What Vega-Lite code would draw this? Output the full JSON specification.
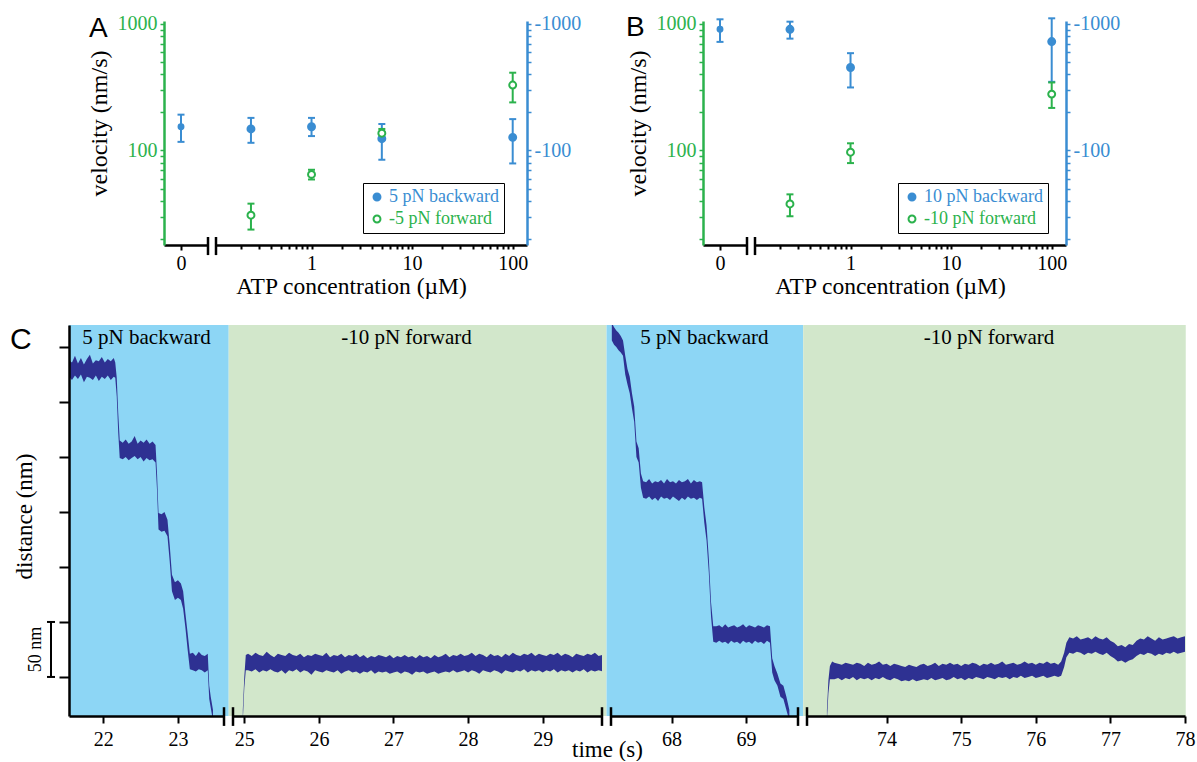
{
"$schema": "https://vega.github.io/schema/vega-lite/v6.json",
"background": "white",
"padding": {"left": 9, "top": 13, "right": 2, "bottom": 0},
"config": {"view": {"stroke": null}, "font": "Liberation Serif", "axis": {"grid": false, "labelFont": "Liberation Serif", "titleFont": "Liberation Serif", "labelFlush": false, "labelOverlap": false, "titleFontWeight": "normal"}},
"datasets": {
"tr1": [
{"t":21.54,"lo":273,"hi":288},{"t":21.58,"lo":270,"hi":286},{"t":21.62,"lo":274,"hi":292},{"t":21.66,"lo":271,"hi":285},{"t":21.70,"lo":275,"hi":290},{"t":21.74,"lo":268,"hi":284},{"t":21.78,"lo":273,"hi":289},{"t":21.82,"lo":272,"hi":293},{"t":21.86,"lo":270,"hi":285},{"t":21.90,"lo":274,"hi":288},{"t":21.94,"lo":269,"hi":287},{"t":21.98,"lo":273,"hi":291},{"t":22.02,"lo":271,"hi":286},{"t":22.06,"lo":274,"hi":289},{"t":22.10,"lo":270,"hi":287},{"t":22.14,"lo":273,"hi":290},{"t":22.16,"lo":272,"hi":286},{"t":22.18,"lo":255,"hi":272},{"t":22.20,"lo":222,"hi":240},{"t":22.22,"lo":199,"hi":215},{"t":22.26,"lo":198,"hi":213},{"t":22.30,"lo":200,"hi":216},{"t":22.34,"lo":197,"hi":212},{"t":22.38,"lo":199,"hi":214},{"t":22.42,"lo":201,"hi":219},{"t":22.46,"lo":198,"hi":212},{"t":22.50,"lo":200,"hi":215},{"t":22.54,"lo":196,"hi":213},{"t":22.58,"lo":199,"hi":216},{"t":22.62,"lo":197,"hi":212},{"t":22.66,"lo":198,"hi":214},{"t":22.70,"lo":195,"hi":211},{"t":22.72,"lo":170,"hi":185},{"t":22.74,"lo":134,"hi":149},{"t":22.78,"lo":132,"hi":148},{"t":22.82,"lo":133,"hi":150},{"t":22.86,"lo":128,"hi":143},{"t":22.89,"lo":105,"hi":120},{"t":22.92,"lo":78,"hi":93},{"t":22.96,"lo":70,"hi":86},{"t":23.00,"lo":72,"hi":88},{"t":23.04,"lo":70,"hi":85},{"t":23.07,"lo":62,"hi":78},{"t":23.10,"lo":45,"hi":58},{"t":23.13,"lo":25,"hi":40},{"t":23.16,"lo":7,"hi":21},{"t":23.20,"lo":6,"hi":22},{"t":23.24,"lo":5,"hi":19},{"t":23.28,"lo":7,"hi":23},{"t":23.32,"lo":6,"hi":20},{"t":23.36,"lo":4,"hi":19},{"t":23.40,"lo":6,"hi":21},{"t":23.42,"lo":-20,"hi":-8},{"t":23.44,"lo":-28,"hi":-18},{"t":23.47,"lo":-40,"hi":-30}
],
"tr2": [
{"t":24.98,"lo":-40,"hi":-30},{"t":25.00,"lo":-10,"hi":0},{"t":25.02,"lo":6,"hi":20},{"t":25.05,"lo":6,"hi":21},{"t":25.10,"lo":5,"hi":19},{"t":25.15,"lo":7,"hi":22},{"t":25.20,"lo":4,"hi":20},{"t":25.25,"lo":6,"hi":19},{"t":25.30,"lo":5,"hi":23},{"t":25.35,"lo":7,"hi":20},{"t":25.40,"lo":5,"hi":18},{"t":25.45,"lo":4,"hi":21},{"t":25.50,"lo":6,"hi":20},{"t":25.55,"lo":3,"hi":19},{"t":25.60,"lo":6,"hi":22},{"t":25.65,"lo":5,"hi":20},{"t":25.70,"lo":7,"hi":19},{"t":25.75,"lo":4,"hi":21},{"t":25.80,"lo":6,"hi":18},{"t":25.85,"lo":5,"hi":20},{"t":25.90,"lo":2,"hi":19},{"t":25.95,"lo":6,"hi":21},{"t":26.00,"lo":5,"hi":20},{"t":26.05,"lo":4,"hi":19},{"t":26.10,"lo":6,"hi":22},{"t":26.15,"lo":5,"hi":18},{"t":26.20,"lo":4,"hi":20},{"t":26.25,"lo":6,"hi":19},{"t":26.30,"lo":3,"hi":21},{"t":26.35,"lo":5,"hi":18},{"t":26.40,"lo":6,"hi":20},{"t":26.45,"lo":4,"hi":19},{"t":26.50,"lo":5,"hi":21},{"t":26.55,"lo":3,"hi":18},{"t":26.60,"lo":5,"hi":20},{"t":26.65,"lo":4,"hi":17},{"t":26.70,"lo":6,"hi":19},{"t":26.75,"lo":3,"hi":18},{"t":26.80,"lo":5,"hi":20},{"t":26.85,"lo":4,"hi":19},{"t":26.90,"lo":5,"hi":18},{"t":26.95,"lo":3,"hi":20},{"t":27.00,"lo":4,"hi":17},{"t":27.05,"lo":5,"hi":19},{"t":27.10,"lo":3,"hi":18},{"t":27.15,"lo":5,"hi":20},{"t":27.20,"lo":4,"hi":18},{"t":27.25,"lo":2,"hi":19},{"t":27.30,"lo":5,"hi":17},{"t":27.35,"lo":4,"hi":20},{"t":27.40,"lo":5,"hi":18},{"t":27.45,"lo":3,"hi":19},{"t":27.50,"lo":4,"hi":17},{"t":27.55,"lo":5,"hi":20},{"t":27.60,"lo":3,"hi":18},{"t":27.65,"lo":4,"hi":19},{"t":27.70,"lo":5,"hi":21},{"t":27.75,"lo":4,"hi":18},{"t":27.80,"lo":6,"hi":20},{"t":27.85,"lo":4,"hi":19},{"t":27.90,"lo":5,"hi":21},{"t":27.95,"lo":6,"hi":19},{"t":28.00,"lo":4,"hi":20},{"t":28.05,"lo":6,"hi":22},{"t":28.10,"lo":5,"hi":19},{"t":28.15,"lo":3,"hi":21},{"t":28.20,"lo":6,"hi":20},{"t":28.25,"lo":5,"hi":18},{"t":28.30,"lo":4,"hi":21},{"t":28.35,"lo":6,"hi":19},{"t":28.40,"lo":5,"hi":20},{"t":28.45,"lo":3,"hi":18},{"t":28.50,"lo":6,"hi":21},{"t":28.55,"lo":5,"hi":19},{"t":28.60,"lo":4,"hi":22},{"t":28.65,"lo":6,"hi":20},{"t":28.70,"lo":5,"hi":19},{"t":28.75,"lo":7,"hi":21},{"t":28.80,"lo":4,"hi":20},{"t":28.85,"lo":6,"hi":22},{"t":28.90,"lo":5,"hi":19},{"t":28.95,"lo":6,"hi":21},{"t":29.00,"lo":4,"hi":20},{"t":29.05,"lo":6,"hi":19},{"t":29.10,"lo":5,"hi":21},{"t":29.15,"lo":7,"hi":20},{"t":29.20,"lo":4,"hi":22},{"t":29.25,"lo":6,"hi":19},{"t":29.30,"lo":5,"hi":21},{"t":29.35,"lo":6,"hi":20},{"t":29.40,"lo":4,"hi":18},{"t":29.45,"lo":6,"hi":21},{"t":29.50,"lo":5,"hi":20},{"t":29.55,"lo":7,"hi":19},{"t":29.60,"lo":4,"hi":21},{"t":29.65,"lo":6,"hi":20},{"t":29.70,"lo":5,"hi":22},{"t":29.75,"lo":6,"hi":19},{"t":29.80,"lo":5,"hi":20}
],
"tr3": [
{"t":67.20,"lo":306,"hi":322},{"t":67.23,"lo":302,"hi":318},{"t":67.26,"lo":300,"hi":315},{"t":67.29,"lo":297,"hi":313},{"t":67.32,"lo":295,"hi":310},{"t":67.35,"lo":292,"hi":306},{"t":67.38,"lo":275,"hi":292},{"t":67.41,"lo":266,"hi":280},{"t":67.44,"lo":258,"hi":273},{"t":67.47,"lo":244,"hi":258},{"t":67.50,"lo":232,"hi":246},{"t":67.53,"lo":200,"hi":214},{"t":67.56,"lo":195,"hi":208},{"t":67.59,"lo":172,"hi":185},{"t":67.62,"lo":163,"hi":178},{"t":67.66,"lo":162,"hi":177},{"t":67.70,"lo":164,"hi":180},{"t":67.74,"lo":161,"hi":176},{"t":67.78,"lo":163,"hi":178},{"t":67.82,"lo":160,"hi":177},{"t":67.86,"lo":164,"hi":179},{"t":67.90,"lo":162,"hi":176},{"t":67.94,"lo":163,"hi":180},{"t":67.98,"lo":161,"hi":177},{"t":68.02,"lo":164,"hi":178},{"t":68.06,"lo":162,"hi":176},{"t":68.10,"lo":160,"hi":179},{"t":68.14,"lo":163,"hi":177},{"t":68.18,"lo":161,"hi":178},{"t":68.22,"lo":164,"hi":180},{"t":68.26,"lo":162,"hi":176},{"t":68.30,"lo":163,"hi":179},{"t":68.34,"lo":161,"hi":177},{"t":68.38,"lo":163,"hi":178},{"t":68.41,"lo":162,"hi":177},{"t":68.44,"lo":140,"hi":154},{"t":68.47,"lo":124,"hi":138},{"t":68.50,"lo":95,"hi":108},{"t":68.53,"lo":55,"hi":68},{"t":68.56,"lo":32,"hi":46},{"t":68.60,"lo":31,"hi":46},{"t":68.64,"lo":33,"hi":47},{"t":68.68,"lo":31,"hi":45},{"t":68.72,"lo":32,"hi":48},{"t":68.76,"lo":30,"hi":45},{"t":68.80,"lo":33,"hi":46},{"t":68.84,"lo":31,"hi":47},{"t":68.88,"lo":32,"hi":45},{"t":68.92,"lo":30,"hi":46},{"t":68.96,"lo":33,"hi":48},{"t":69.00,"lo":31,"hi":45},{"t":69.04,"lo":32,"hi":47},{"t":69.08,"lo":30,"hi":46},{"t":69.12,"lo":33,"hi":45},{"t":69.16,"lo":31,"hi":47},{"t":69.20,"lo":32,"hi":46},{"t":69.24,"lo":30,"hi":45},{"t":69.28,"lo":33,"hi":47},{"t":69.32,"lo":31,"hi":46},{"t":69.35,"lo":4,"hi":17},{"t":69.38,"lo":-3,"hi":10},{"t":69.42,"lo":-8,"hi":3},{"t":69.46,"lo":-18,"hi":-6},{"t":69.50,"lo":-20,"hi":-8},{"t":69.54,"lo":-30,"hi":-18},{"t":69.58,"lo":-40,"hi":-30}
],
"tr4": [
{"t":73.20,"lo":-40,"hi":-30},{"t":73.22,"lo":-15,"hi":-3},{"t":73.24,"lo":-2,"hi":10},{"t":73.27,"lo":-2,"hi":14},{"t":73.30,"lo":-2,"hi":13},{"t":73.35,"lo":-1,"hi":12},{"t":73.40,"lo":-3,"hi":11},{"t":73.45,"lo":-1,"hi":13},{"t":73.50,"lo":-2,"hi":12},{"t":73.55,"lo":0,"hi":11},{"t":73.60,"lo":-3,"hi":13},{"t":73.65,"lo":-1,"hi":12},{"t":73.70,"lo":-2,"hi":10},{"t":73.75,"lo":-1,"hi":13},{"t":73.80,"lo":-3,"hi":11},{"t":73.85,"lo":-1,"hi":12},{"t":73.90,"lo":-2,"hi":14},{"t":73.95,"lo":0,"hi":11},{"t":74.00,"lo":-2,"hi":12},{"t":74.05,"lo":-3,"hi":10},{"t":74.10,"lo":-1,"hi":12},{"t":74.15,"lo":-2,"hi":11},{"t":74.20,"lo":-4,"hi":10},{"t":74.25,"lo":-3,"hi":9},{"t":74.30,"lo":-4,"hi":11},{"t":74.35,"lo":-2,"hi":10},{"t":74.40,"lo":-4,"hi":9},{"t":74.45,"lo":-3,"hi":11},{"t":74.50,"lo":-2,"hi":12},{"t":74.55,"lo":-3,"hi":10},{"t":74.60,"lo":-1,"hi":11},{"t":74.65,"lo":-3,"hi":13},{"t":74.70,"lo":-2,"hi":10},{"t":74.75,"lo":-1,"hi":12},{"t":74.80,"lo":-3,"hi":11},{"t":74.85,"lo":-2,"hi":13},{"t":74.90,"lo":0,"hi":11},{"t":74.95,"lo":-2,"hi":12},{"t":75.00,"lo":-1,"hi":10},{"t":75.05,"lo":-3,"hi":12},{"t":75.10,"lo":-1,"hi":11},{"t":75.15,"lo":-2,"hi":13},{"t":75.20,"lo":0,"hi":12},{"t":75.25,"lo":-1,"hi":10},{"t":75.30,"lo":-2,"hi":12},{"t":75.35,"lo":0,"hi":11},{"t":75.40,"lo":-1,"hi":13},{"t":75.45,"lo":-2,"hi":11},{"t":75.50,"lo":0,"hi":12},{"t":75.55,"lo":-1,"hi":14},{"t":75.60,"lo":0,"hi":11},{"t":75.65,"lo":-2,"hi":12},{"t":75.70,"lo":0,"hi":13},{"t":75.75,"lo":-1,"hi":11},{"t":75.80,"lo":1,"hi":12},{"t":75.85,"lo":-1,"hi":14},{"t":75.90,"lo":0,"hi":12},{"t":75.95,"lo":1,"hi":13},{"t":76.00,"lo":-1,"hi":11},{"t":76.05,"lo":0,"hi":13},{"t":76.10,"lo":1,"hi":12},{"t":76.15,"lo":-1,"hi":14},{"t":76.20,"lo":0,"hi":12},{"t":76.25,"lo":1,"hi":13},{"t":76.30,"lo":0,"hi":11},{"t":76.34,"lo":1,"hi":14},{"t":76.38,"lo":9,"hi":22},{"t":76.41,"lo":18,"hi":31},{"t":76.45,"lo":22,"hi":36},{"t":76.50,"lo":21,"hi":35},{"t":76.55,"lo":23,"hi":37},{"t":76.60,"lo":22,"hi":34},{"t":76.65,"lo":20,"hi":35},{"t":76.70,"lo":22,"hi":36},{"t":76.75,"lo":21,"hi":34},{"t":76.80,"lo":23,"hi":37},{"t":76.85,"lo":21,"hi":35},{"t":76.90,"lo":20,"hi":34},{"t":76.95,"lo":22,"hi":36},{"t":77.00,"lo":19,"hi":33},{"t":77.05,"lo":17,"hi":31},{"t":77.10,"lo":14,"hi":28},{"t":77.15,"lo":15,"hi":29},{"t":77.20,"lo":13,"hi":27},{"t":77.25,"lo":15,"hi":30},{"t":77.30,"lo":16,"hi":29},{"t":77.35,"lo":19,"hi":33},{"t":77.40,"lo":21,"hi":35},{"t":77.45,"lo":20,"hi":34},{"t":77.50,"lo":22,"hi":37},{"t":77.55,"lo":21,"hi":35},{"t":77.60,"lo":19,"hi":33},{"t":77.65,"lo":21,"hi":36},{"t":77.70,"lo":20,"hi":34},{"t":77.75,"lo":22,"hi":35},{"t":77.80,"lo":21,"hi":36},{"t":77.85,"lo":23,"hi":37},{"t":77.90,"lo":21,"hi":35},{"t":77.95,"lo":22,"hi":36},{"t":78.00,"lo":23,"hi":37}
]
},
"vconcat": [
{
"bounds": "flush",
"spacing": 8,
"resolve": {"scale": {"x": "independent", "y": "independent", "color": "independent", "fill": "independent", "stroke": "independent"}, "legend": {"color": "independent", "fill": "independent", "stroke": "independent"}},
"hconcat": [
{"width": 87, "height": 224, "data": {"values": []}, "mark": "point"},
{
"width": 44, "height": 224,
"data": {"values": [{"atp": 0, "v": 154, "lo": 117, "hi": 192}]},
"layer": [
{"mark": {"type": "rule", "color": "#3a8dd2", "strokeWidth": 2},
 "encoding": {
  "x": {"field": "atp", "type": "quantitative", "scale": {"domain": [-1, 1.588], "nice": false, "zero": false}, "axis": {"values": [0], "title": null, "tickSize": 5, "tickWidth": 2, "tickColor": "black", "domainColor": "black", "domainWidth": 2.5, "labelFontSize": 20, "labelColor": "black", "labelPadding": 3, "zindex": 1}},
  "y": {"field": "lo", "type": "quantitative", "scale": {"type": "log", "domain": [17.9, 1056], "nice": false}, "axis": {"orient": "left", "values": [20,30,40,50,60,70,80,90,100,200,300,400,500,600,700,800,900,1000], "labelExpr": "datum.value == 1000 ? '1000' : datum.value == 100 ? '100' : ''", "domainColor": "#2bb24c", "domainWidth": 2.5, "tickColor": "#2bb24c", "tickWidth": 1.5, "tickSize": 4, "labelColor": "#2bb24c", "labelFontSize": 20, "labelPadding": 3, "title": "velocity (nm/s)", "titleFontSize": 24, "titleColor": "black", "titleX": -65, "titleY": 102, "titleBaseline": "middle", "titleAngle": 270, "zindex": 1}},
  "y2": {"field": "hi"}}},
{"mark": {"type": "rule", "color": "#3a8dd2", "strokeWidth": 2, "xOffset": -3.5, "x2Offset": 3.5}, "encoding": {"x": {"field": "atp", "type": "quantitative"}, "x2": {"field": "atp"}, "y": {"field": "lo", "type": "quantitative"}}},
{"mark": {"type": "rule", "color": "#3a8dd2", "strokeWidth": 2, "xOffset": -3.5, "x2Offset": 3.5}, "encoding": {"x": {"field": "atp", "type": "quantitative"}, "x2": {"field": "atp"}, "y": {"field": "hi", "type": "quantitative"}}},
{"mark": {"type": "point", "filled": true, "color": "#3a8dd2", "size": 48, "opacity": 1}, "encoding": {"x": {"field": "atp", "type": "quantitative"}, "y": {"field": "v", "type": "quantitative"}}},
{"data": {"values": [{}]}, "mark": {"type": "rule", "color": "black", "strokeWidth": 2.5}, "encoding": {"x": {"datum": 1.588}, "y": {"datum": 20.7}, "y2": {"datum": 14.9}}},
{"data": {"values": [{"letter": "A"}]}, "mark": {"type": "text", "font": "Liberation Sans", "fontSize": 28, "align": "left", "baseline": "alphabetic", "color": "black"}, "encoding": {"x": {"datum": -5.41}, "y": {"datum": 785}, "text": {"field": "letter"}}}
]
},
{
"width": 311, "height": 224,
"data": {"values": [
{"atp": 0.25, "series": "5 pN backward", "v": 148, "lo": 115, "hi": 181},
{"atp": 1, "series": "5 pN backward", "v": 154, "lo": 130, "hi": 181},
{"atp": 5, "series": "5 pN backward", "v": 124, "lo": 84.5, "hi": 162},
{"atp": 100, "series": "5 pN backward", "v": 127, "lo": 79, "hi": 177},
{"atp": 0.25, "series": "-5 pN forward", "v": 30.8, "lo": 23.7, "hi": 38},
{"atp": 1, "series": "-5 pN forward", "v": 64.7, "lo": 59, "hi": 70.4},
{"atp": 5, "series": "-5 pN forward", "v": 137, "lo": 127, "hi": 148},
{"atp": 100, "series": "-5 pN forward", "v": 329, "lo": 240, "hi": 412}
]},
"layer": [
{"mark": {"type": "rule", "strokeWidth": 2},
 "encoding": {
  "x": {"field": "atp", "type": "quantitative", "scale": {"type": "log", "domain": [0.1123, 138.7], "nice": false}, "axis": {"values": [0.2,0.3,0.4,0.5,0.6,0.7,0.8,0.9,1,2,3,4,5,6,7,8,9,10,20,30,40,50,60,70,80,90,100], "labelExpr": "datum.value == 1 ? '1' : datum.value == 10 ? '10' : datum.value == 100 ? '100' : ''", "tickSize": 4, "tickWidth": 2, "tickColor": "black", "domainColor": "black", "domainWidth": 2.5, "labelFontSize": 20, "labelColor": "black", "labelPadding": 4, "title": "ATP concentration (µM)", "titleFontSize": 23.5, "titleColor": "black", "titleX": 135, "titleY": 48, "titleBaseline": "alphabetic", "titleAlign": "center", "zindex": 1}},
  "y": {"field": "lo", "type": "quantitative", "scale": {"type": "log", "domain": [17.9, 1056], "nice": false}, "axis": {"orient": "right", "values": [20,30,40,50,60,70,80,90,100,200,300,400,500,600,700,800,900,1000], "labelExpr": "datum.value == 1000 ? '-1000' : datum.value == 100 ? '-100' : ''", "domainColor": "#3a8dd2", "domainWidth": 2.5, "tickColor": "#3a8dd2", "tickWidth": 1.5, "tickSize": 4, "labelColor": "#3a8dd2", "labelFontSize": 20, "labelPadding": 3, "title": null, "zindex": 1}},
  "y2": {"field": "hi"},
  "color": {"field": "series", "type": "nominal", "scale": {"domain": ["5 pN backward", "-5 pN forward"], "range": ["#3a8dd2", "#2bb24c"]},
    "legend": {"orient": "none", "legendX": 147, "legendY": 162, "title": null, "strokeColor": "black", "padding": 5, "labelFont": "Liberation Serif", "labelFontSize": 18, "labelExpr": "indexof(datum.value, 'backward') > 0 ? '\u00a0\u00a0' + datum.label : datum.label", "symbolType": "circle", "symbolSize": 48, "symbolStrokeWidth": 2, "rowPadding": 4, "labelOffset": 3,
      "encode": {"labels": {"update": {"fill": {"signal": "indexof(datum.value, 'backward') > 0 ? '#3a8dd2' : '#2bb24c'"}}}}}}}},
{"mark": {"type": "rule", "strokeWidth": 2, "xOffset": -3.5, "x2Offset": 3.5}, "encoding": {"x": {"field": "atp", "type": "quantitative"}, "x2": {"field": "atp"}, "y": {"field": "lo", "type": "quantitative"}, "color": {"field": "series", "type": "nominal"}}},
{"mark": {"type": "rule", "strokeWidth": 2, "xOffset": -3.5, "x2Offset": 3.5}, "encoding": {"x": {"field": "atp", "type": "quantitative"}, "x2": {"field": "atp"}, "y": {"field": "hi", "type": "quantitative"}, "color": {"field": "series", "type": "nominal"}}},
{"mark": {"type": "point", "filled": false, "size": 48, "strokeWidth": 2, "opacity": 1},
 "encoding": {
  "x": {"field": "atp", "type": "quantitative"},
  "y": {"field": "v", "type": "quantitative"},
  "color": {"field": "series", "type": "nominal"},
  "fill": {"field": "series", "type": "nominal", "scale": {"domain": ["5 pN backward", "-5 pN forward"], "range": ["#3a8dd2", "white"]}}}},
{"data": {"values": [{}]}, "mark": {"type": "rule", "color": "black", "strokeWidth": 2.5}, "encoding": {"x": {"datum": 0.1123}, "y": {"datum": 20.7}, "y2": {"datum": 14.9}}}
]
},
{"width": 160, "height": 224, "data": {"values": []}, "mark": "point"},
{
"width": 44, "height": 224,
"data": {"values": [{"atp": 0, "v": 908, "lo": 722, "hi": 1089}]},
"layer": [
{"mark": {"type": "rule", "color": "#3a8dd2", "strokeWidth": 2},
 "encoding": {
  "x": {"field": "atp", "type": "quantitative", "scale": {"domain": [-1, 1.588], "nice": false, "zero": false}, "axis": {"values": [0], "title": null, "tickSize": 5, "tickWidth": 2, "tickColor": "black", "domainColor": "black", "domainWidth": 2.5, "labelFontSize": 20, "labelColor": "black", "labelPadding": 3, "zindex": 1}},
  "y": {"field": "lo", "type": "quantitative", "scale": {"type": "log", "domain": [17.9, 1056], "nice": false}, "axis": {"orient": "left", "values": [20,30,40,50,60,70,80,90,100,200,300,400,500,600,700,800,900,1000], "labelExpr": "datum.value == 1000 ? '1000' : datum.value == 100 ? '100' : ''", "domainColor": "#2bb24c", "domainWidth": 2.5, "tickColor": "#2bb24c", "tickWidth": 1.5, "tickSize": 4, "labelColor": "#2bb24c", "labelFontSize": 20, "labelPadding": 3, "title": "velocity (nm/s)", "titleFontSize": 24, "titleColor": "black", "titleX": -65, "titleY": 102, "titleBaseline": "middle", "titleAngle": 270, "zindex": 1}},
  "y2": {"field": "hi"}}},
{"mark": {"type": "rule", "color": "#3a8dd2", "strokeWidth": 2, "xOffset": -3.5, "x2Offset": 3.5}, "encoding": {"x": {"field": "atp", "type": "quantitative"}, "x2": {"field": "atp"}, "y": {"field": "lo", "type": "quantitative"}}},
{"mark": {"type": "rule", "color": "#3a8dd2", "strokeWidth": 2, "xOffset": -3.5, "x2Offset": 3.5}, "encoding": {"x": {"field": "atp", "type": "quantitative"}, "x2": {"field": "atp"}, "y": {"field": "hi", "type": "quantitative"}}},
{"mark": {"type": "point", "filled": true, "color": "#3a8dd2", "size": 48, "opacity": 1}, "encoding": {"x": {"field": "atp", "type": "quantitative"}, "y": {"field": "v", "type": "quantitative"}}},
{"data": {"values": [{}]}, "mark": {"type": "rule", "color": "black", "strokeWidth": 2.5}, "encoding": {"x": {"datum": 1.588}, "y": {"datum": 20.7}, "y2": {"datum": 14.9}}},
{"data": {"values": [{"letter": "B"}]}, "mark": {"type": "text", "font": "Liberation Sans", "fontSize": 28, "align": "left", "baseline": "alphabetic", "color": "black"}, "encoding": {"x": {"datum": -5.53}, "y": {"datum": 800}, "text": {"field": "letter"}}}
]
},
{
"width": 311, "height": 224,
"data": {"values": [
{"atp": 0.25, "series": "10 pN backward", "v": 908, "lo": 766, "hi": 1043},
{"atp": 1, "series": "10 pN backward", "v": 453, "lo": 315, "hi": 588},
{"atp": 100, "series": "10 pN backward", "v": 726, "lo": 349, "hi": 1109},
{"atp": 0.25, "series": "-10 pN forward", "v": 37.8, "lo": 30.2, "hi": 45},
{"atp": 1, "series": "-10 pN forward", "v": 97, "lo": 79.5, "hi": 114},
{"atp": 100, "series": "-10 pN forward", "v": 279, "lo": 217, "hi": 345}
]},
"layer": [
{"mark": {"type": "rule", "strokeWidth": 2},
 "encoding": {
  "x": {"field": "atp", "type": "quantitative", "scale": {"type": "log", "domain": [0.1123, 138.7], "nice": false}, "axis": {"values": [0.2,0.3,0.4,0.5,0.6,0.7,0.8,0.9,1,2,3,4,5,6,7,8,9,10,20,30,40,50,60,70,80,90,100], "labelExpr": "datum.value == 1 ? '1' : datum.value == 10 ? '10' : datum.value == 100 ? '100' : ''", "tickSize": 4, "tickWidth": 2, "tickColor": "black", "domainColor": "black", "domainWidth": 2.5, "labelFontSize": 20, "labelColor": "black", "labelPadding": 4, "title": "ATP concentration (µM)", "titleFontSize": 23.5, "titleColor": "black", "titleX": 135, "titleY": 48, "titleBaseline": "alphabetic", "titleAlign": "center", "zindex": 1}},
  "y": {"field": "lo", "type": "quantitative", "scale": {"type": "log", "domain": [17.9, 1056], "nice": false}, "axis": {"orient": "right", "values": [20,30,40,50,60,70,80,90,100,200,300,400,500,600,700,800,900,1000], "labelExpr": "datum.value == 1000 ? '-1000' : datum.value == 100 ? '-100' : ''", "domainColor": "#3a8dd2", "domainWidth": 2.5, "tickColor": "#3a8dd2", "tickWidth": 1.5, "tickSize": 4, "labelColor": "#3a8dd2", "labelFontSize": 20, "labelPadding": 3, "title": null, "zindex": 1}},
  "y2": {"field": "hi"},
  "color": {"field": "series", "type": "nominal", "scale": {"domain": ["10 pN backward", "-10 pN forward"], "range": ["#3a8dd2", "#2bb24c"]},
    "legend": {"orient": "none", "legendX": 143, "legendY": 162, "title": null, "strokeColor": "black", "padding": 5, "labelFont": "Liberation Serif", "labelFontSize": 18, "labelExpr": "indexof(datum.value, 'backward') > 0 ? '\u00a0\u00a0' + datum.label : datum.label", "symbolType": "circle", "symbolSize": 48, "symbolStrokeWidth": 2, "rowPadding": 4, "labelOffset": 3,
      "encode": {"labels": {"update": {"fill": {"signal": "indexof(datum.value, 'backward') > 0 ? '#3a8dd2' : '#2bb24c'"}}}}}}}},
{"mark": {"type": "rule", "strokeWidth": 2, "xOffset": -3.5, "x2Offset": 3.5}, "encoding": {"x": {"field": "atp", "type": "quantitative"}, "x2": {"field": "atp"}, "y": {"field": "lo", "type": "quantitative"}, "color": {"field": "series", "type": "nominal"}}},
{"mark": {"type": "rule", "strokeWidth": 2, "xOffset": -3.5, "x2Offset": 3.5}, "encoding": {"x": {"field": "atp", "type": "quantitative"}, "x2": {"field": "atp"}, "y": {"field": "hi", "type": "quantitative"}, "color": {"field": "series", "type": "nominal"}}},
{"mark": {"type": "point", "filled": false, "size": 48, "strokeWidth": 2, "opacity": 1},
 "encoding": {
  "x": {"field": "atp", "type": "quantitative"},
  "y": {"field": "v", "type": "quantitative"},
  "color": {"field": "series", "type": "nominal"},
  "fill": {"field": "series", "type": "nominal", "scale": {"domain": ["10 pN backward", "-10 pN forward"], "range": ["#3a8dd2", "white"]}}}},
{"data": {"values": [{}]}, "mark": {"type": "rule", "color": "black", "strokeWidth": 2.5}, "encoding": {"x": {"datum": 0.1123}, "y": {"datum": 20.7}, "y2": {"datum": 14.9}}}
]
}
]
},
{
"bounds": "flush",
"spacing": 9,
"resolve": {"scale": {"x": "independent", "y": "independent"}},
"hconcat": [
{
"width": 155, "height": 391,
"layer": [
{"data": {"values": [{"t0": 21.54, "t1": 23.681}]}, "mark": {"type": "rect", "color": "#8dd6f5"},
 "encoding": {
  "x": {"field": "t0", "type": "quantitative", "scale": {"domain": [21.54, 23.6177], "nice": false, "zero": false}, "axis": {"values": [22, 23], "format": "d", "title": null, "tickSize": 7, "tickWidth": 2, "tickColor": "black", "domainColor": "black", "domainWidth": 2.5, "labelFontSize": 20, "labelColor": "black", "labelPadding": 6, "zindex": 1}},
  "x2": {"field": "t1"},
  "y": {"datum": -35.5, "type": "quantitative", "scale": {"domain": [-35.5, 320], "nice": false, "zero": false}, "axis": {"values": [0, 50, 100, 150, 200, 250, 300], "labels": false, "tickSize": 10, "tickWidth": 2, "tickColor": "black", "domainColor": "black", "domainWidth": 2.5, "title": "distance (nm)", "titleFontSize": 23, "titleColor": "black", "titleX": -45, "titleY": 191, "titleBaseline": "middle", "titleAngle": 270, "zindex": 1}},
  "y2": {"datum": 320}}},
{"data": {"name": "tr1"}, "mark": {"type": "area", "color": "#2e3192", "clip": true, "opacity": 1}, "encoding": {"x": {"field": "t", "type": "quantitative"}, "y": {"field": "lo", "type": "quantitative"}, "y2": {"field": "hi"}}},
{"data": {"values": [{"t": 22.579, "label": "5 pN backward"}]}, "mark": {"type": "text", "font": "Liberation Serif", "fontSize": 21, "baseline": "middle", "color": "black"}, "encoding": {"x": {"field": "t", "type": "quantitative"}, "y": {"datum": 308}, "text": {"field": "label"}}},
{"data": {"values": [{}]}, "mark": {"type": "rule", "color": "black", "strokeWidth": 2.5}, "encoding": {"x": {"datum": 23.6177}, "y": {"datum": -27.5}, "y2": {"datum": -44.5}}},
{"data": {"values": [{}]}, "mark": {"type": "rule", "color": "black", "strokeWidth": 2}, "encoding": {"x": {"datum": 21.299}, "y": {"datum": 0}, "y2": {"datum": 50}}},
{"data": {"values": [{"y": 0}, {"y": 50}]}, "mark": {"type": "rule", "color": "black", "strokeWidth": 2, "xOffset": -4, "x2Offset": 4}, "encoding": {"x": {"datum": 21.299}, "x2": {"datum": 21.299}, "y": {"field": "y", "type": "quantitative"}}},
{"data": {"values": [{}]}, "mark": {"type": "text", "text": "50 nm", "angle": 270, "font": "Liberation Serif", "fontSize": 18, "baseline": "middle", "color": "black"}, "encoding": {"x": {"datum": 21.104}, "y": {"datum": 25}}},
{"data": {"values": [{"letter": "C"}]}, "mark": {"type": "text", "font": "Liberation Sans", "fontSize": 30, "align": "left", "baseline": "alphabetic", "color": "black"}, "encoding": {"x": {"datum": 20.749}, "y": {"datum": 298.2}, "text": {"field": "letter"}}}
]
},
{
"width": 369, "height": 391,
"layer": [
{"data": {"values": [{"t0": 24.791, "t1": 29.855}]}, "mark": {"type": "rect", "color": "#d2e7cb"},
 "encoding": {
  "x": {"field": "t0", "type": "quantitative", "scale": {"domain": [24.8485, 29.795], "nice": false, "zero": false}, "axis": {"values": [25, 26, 27, 28, 29], "format": "d", "tickSize": 7, "tickWidth": 2, "tickColor": "black", "domainColor": "black", "domainWidth": 2.5, "labelFontSize": 20, "labelColor": "black", "labelPadding": 6, "title": "time (s)", "titleFontSize": 23, "titleColor": "black", "titleX": 374, "titleY": 40, "titleBaseline": "alphabetic", "titleAlign": "center", "zindex": 1}},
  "x2": {"field": "t1"},
  "y": {"datum": -35.5, "type": "quantitative", "scale": {"domain": [-35.5, 320], "nice": false, "zero": false}, "axis": null},
  "y2": {"datum": 320}}},
{"data": {"name": "tr2"}, "mark": {"type": "area", "color": "#2e3192", "clip": true, "opacity": 1}, "encoding": {"x": {"field": "t", "type": "quantitative"}, "y": {"field": "lo", "type": "quantitative"}, "y2": {"field": "hi"}}},
{"data": {"values": [{"t": 27.174, "label": "-10 pN forward"}]}, "mark": {"type": "text", "font": "Liberation Serif", "fontSize": 21, "baseline": "middle", "color": "black"}, "encoding": {"x": {"field": "t", "type": "quantitative"}, "y": {"datum": 308}, "text": {"field": "label"}}},
{"data": {"values": [{"x": 24.8485}, {"x": 29.795}]}, "mark": {"type": "rule", "color": "black", "strokeWidth": 2.5}, "encoding": {"x": {"field": "x", "type": "quantitative"}, "y": {"datum": -27.5}, "y2": {"datum": -44.5}}}
]
},
{
"width": 187, "height": 391,
"layer": [
{"data": {"values": [{"t0": 67.129, "t1": 69.765}]}, "mark": {"type": "rect", "color": "#8dd6f5"},
 "encoding": {
  "x": {"field": "t0", "type": "quantitative", "scale": {"domain": [67.189, 69.6957], "nice": false, "zero": false}, "axis": {"values": [68, 69], "format": "d", "title": null, "tickSize": 7, "tickWidth": 2, "tickColor": "black", "domainColor": "black", "domainWidth": 2.5, "labelFontSize": 20, "labelColor": "black", "labelPadding": 6, "zindex": 1}},
  "x2": {"field": "t1"},
  "y": {"datum": -35.5, "type": "quantitative", "scale": {"domain": [-35.5, 320], "nice": false, "zero": false}, "axis": null},
  "y2": {"datum": 320}}},
{"data": {"name": "tr3"}, "mark": {"type": "area", "color": "#2e3192", "clip": true, "opacity": 1}, "encoding": {"x": {"field": "t", "type": "quantitative"}, "y": {"field": "lo", "type": "quantitative"}, "y2": {"field": "hi"}}},
{"data": {"values": [{"t": 68.441, "label": "5 pN backward"}]}, "mark": {"type": "text", "font": "Liberation Serif", "fontSize": 21, "baseline": "middle", "color": "black"}, "encoding": {"x": {"field": "t", "type": "quantitative"}, "y": {"datum": 308}, "text": {"field": "label"}}},
{"data": {"values": [{"x": 67.189}, {"x": 69.6957}]}, "mark": {"type": "rule", "color": "black", "strokeWidth": 2.5}, "encoding": {"x": {"field": "x", "type": "quantitative"}, "y": {"datum": -27.5}, "y2": {"datum": -44.5}}}
]
},
{
"width": 378, "height": 391,
"layer": [
{"data": {"values": [{"t0": 72.882, "t1": 78.01}]}, "mark": {"type": "rect", "color": "#d2e7cb"},
 "encoding": {
  "x": {"field": "t0", "type": "quantitative", "scale": {"domain": [72.933, 78.0], "nice": false, "zero": false}, "axis": {"values": [74, 75, 76, 77, 78], "format": "d", "title": null, "tickSize": 7, "tickWidth": 2, "tickColor": "black", "domainColor": "black", "domainWidth": 2.5, "labelFontSize": 20, "labelColor": "black", "labelPadding": 6, "zindex": 1}},
  "x2": {"field": "t1"},
  "y": {"datum": -35.5, "type": "quantitative", "scale": {"domain": [-35.5, 320], "nice": false, "zero": false}, "axis": null},
  "y2": {"datum": 320}}},
{"data": {"name": "tr4"}, "mark": {"type": "area", "color": "#2e3192", "clip": true, "opacity": 1}, "encoding": {"x": {"field": "t", "type": "quantitative"}, "y": {"field": "lo", "type": "quantitative"}, "y2": {"field": "hi"}}},
{"data": {"values": [{"t": 75.372, "label": "-10 pN forward"}]}, "mark": {"type": "text", "font": "Liberation Serif", "fontSize": 21, "baseline": "middle", "color": "black"}, "encoding": {"x": {"field": "t", "type": "quantitative"}, "y": {"datum": 308}, "text": {"field": "label"}}},
{"data": {"values": [{}]}, "mark": {"type": "rule", "color": "black", "strokeWidth": 2.5}, "encoding": {"x": {"datum": 72.933}, "y": {"datum": -27.5}, "y2": {"datum": -44.5}}}
]
}
]
}
],
"spacing": 26,
"resolve": {"scale": {"x": "independent", "y": "independent", "color": "independent", "fill": "independent", "stroke": "independent"}, "legend": {"color": "independent", "fill": "independent", "stroke": "independent"}}
}
